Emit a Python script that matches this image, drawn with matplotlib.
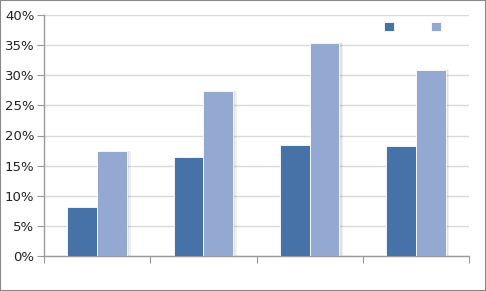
import matplotlib
matplotlib.use("Agg")
import matplotlib.pyplot as plt
import numpy as np
from matplotlib.patches import Rectangle, Patch

categories = ["", "", "", ""]
series_a = [8.1, 16.4, 18.4, 18.3]
series_b = [17.4, 27.4, 35.4, 30.9]
yticks = [0, 5, 10, 15, 20, 25, 30, 35, 40]
ytick_labels = ["0%", "5%", "10%", "15%", "20%", "25%", "30%", "35%", "40%"]

col_a = "#4672A8"
col_b = "#94A9D1"

fig = plt.figure(figsize=(4.86, 2.91), dpi=100)
ax = fig.add_axes([44/486, 1-256/291, (469-44)/486, (256-15)/291])

x = np.arange(len(categories))
w = 0.28
# soft shadows
for dx in (0.02, 0.035):
    ax.bar(x - w/2 + dx, series_a, w, color="#000000", alpha=0.06, zorder=2, linewidth=0)
    ax.bar(x + w/2 + dx, series_b, w, color="#000000", alpha=0.06, zorder=2, linewidth=0)
ax.bar(x - w/2, series_a, w, color=col_a, edgecolor="white", linewidth=0.6, zorder=3)
ax.bar(x + w/2, series_b, w, color=col_b, edgecolor="white", linewidth=0.6, zorder=3)

ax.set_xlim(-0.5, len(categories) - 0.5)
ax.set_ylim(0, 40)
ax.set_yticks(yticks)
ax.set_yticklabels(ytick_labels, fontsize=9.5, color="#222222")
ax.set_xticks(np.arange(len(categories) + 1) - 0.5)
ax.set_xticklabels([])
ax.tick_params(axis="y", length=5, color="#999999", pad=2)
ax.tick_params(axis="x", length=5, color="#999999")
ax.yaxis.grid(True, color="#D9D9D9", linewidth=1)
ax.set_axisbelow(True)
for s in ("top", "right"):
    ax.spines[s].set_visible(False)
for s in ("left", "bottom"):
    ax.spines[s].set_color("#999999")
    ax.spines[s].set_linewidth(1)

handles = [Patch(facecolor=col_a, edgecolor="white", linewidth=0.6),
           Patch(facecolor=col_b, edgecolor="white", linewidth=0.6)]
ax.legend(handles, [" ", " "], ncol=2, frameon=False, loc="upper right",
          bbox_to_anchor=(0.975, 1.022), handlelength=0.75, handleheight=0.75,
          columnspacing=2.5, handletextpad=0.2, fontsize=9)

fig.patches.append(Rectangle((0, 0), 1, 1, transform=fig.transFigure, fill=False,
                             edgecolor="#888888", linewidth=1.5))
fig.savefig("out.png", dpi=100)
